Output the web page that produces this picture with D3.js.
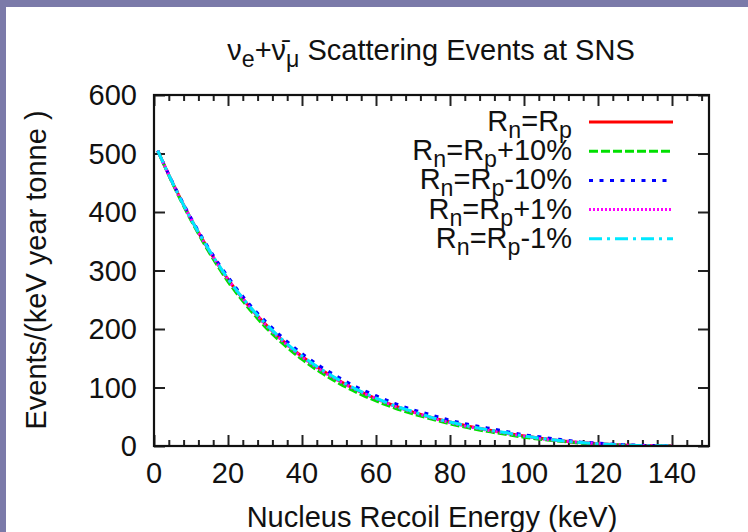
<!DOCTYPE html>
<meta charset="utf-8">

<!-- Load d3.js -->
<script src="https://d3js.org/d3.v7.min.js"></script>

<style>
  body { margin: 0; background: #7b7aa9; }
  #my_dataviz { position: absolute; left: 6px; top: 7px; width: 742px; height: 525px; background: #fff; }
  svg { position: absolute; left: -6px; top: -7px; }
  text { font-family: "Liberation Sans", Arial, Helvetica, sans-serif; fill: #111; }
</style>

<!-- Create a div where the graph will take place -->
<div id="my_dataviz"></div>

<script>
const energy = [1, 5, 10, 15, 20, 25, 30, 35, 40, 45, 50, 55, 60, 65, 70, 75, 80, 85, 90, 95, 100, 105, 110, 115, 120, 125, 130, 135, 140];

// events/(keV year tonne) for each neutron radius
const rnEqRp     = [505, 450, 388, 333, 285, 244, 209, 179, 153, 131, 112, 95, 81, 69, 58, 49, 41, 34, 28, 22, 17, 13, 9, 6, 4, 2, 1, 0.5, 0.2];
const rnPlus10   = [505, 449, 386, 330, 281, 240, 204, 174, 148, 126, 107, 91, 77, 65, 55, 46, 38, 31, 25, 20, 15, 11, 8, 5, 3, 2, 1, 0.4, 0.1];
const rnMinus10  = [505, 451, 390, 336, 289, 248, 214, 184, 158, 136, 117, 100, 86, 73, 62, 53, 44, 37, 31, 25, 19, 15, 11, 7, 5, 3, 1.5, 0.7, 0.3];
const rnPlus1    = [505, 450, 388, 333, 285, 244, 208, 178, 152, 130, 111, 95, 81, 68, 58, 48, 40, 33, 27, 22, 17, 12, 9, 6, 4, 2, 1, 0.5, 0.2];
const rnMinus1   = [505, 450, 388, 334, 286, 245, 210, 180, 154, 132, 113, 96, 82, 69, 59, 49, 41, 34, 28, 23, 17, 13, 9, 6, 4, 2, 1, 0.5, 0.2];

// legend labels, split into [text, isSubscript]
const labels = [
  [["R", 0], ["n", 1], ["=R", 0], ["p", 1]],
  [["R", 0], ["n", 1], ["=R", 0], ["p", 1], ["+10%", 0]],
  [["R", 0], ["n", 1], ["=R", 0], ["p", 1], ["-10%", 0]],
  [["R", 0], ["n", 1], ["=R", 0], ["p", 1], ["+1%", 0]],
  [["R", 0], ["n", 1], ["=R", 0], ["p", 1], ["-1%", 0]]
];

const xTicks = [0, 20, 40, 60, 80, 100, 120, 140];
const yTicks = [0, 100, 200, 300, 400, 500, 600];

const series = [
  {values: rnEqRp,    color: "#ff0000", dash: null},
  {values: rnPlus10,  color: "#00e000", dash: "9,3"},
  {values: rnMinus10, color: "#0000ff", dash: "4,6.5"},
  {values: rnPlus1,   color: "#ff00ff", dash: "2,2"},
  {values: rnMinus1,  color: "#00e8ff", dash: "13,5,3,5"}
];

// set the dimensions and margins of the graph
const W = 748, H = 532;
const margin = {top: 95, right: 39, bottom: 86, left: 154},
  width = W - margin.left - margin.right,
  height = H - margin.top - margin.bottom;

const root = d3.select("#my_dataviz")
  .append("svg")
    .attr("width", W)
    .attr("height", H);

const svg = root.append("g")
    .attr("transform", `translate(${margin.left}, ${margin.top})`);

const x = d3.scaleLinear().domain([0, 150]).range([0, width]);
const y = d3.scaleLinear().domain([0, 600]).range([height, 0]);

const minorX = d3.range(0, 151, 4).filter(v => v % 20 !== 0);

// ticks on all four sides, pointing inward
function tickAxis(axis, tv, size) {
  return axis.tickValues(tv).tickSizeInner(size).tickSizeOuter(0).tickFormat("");
}
const axes = [
  [tickAxis(d3.axisBottom(x), xTicks, -11), `translate(0,${height})`],
  [tickAxis(d3.axisBottom(x), minorX, -6), `translate(0,${height})`],
  [tickAxis(d3.axisTop(x), xTicks, -11), null],
  [tickAxis(d3.axisTop(x), minorX, -6), null],
  [tickAxis(d3.axisLeft(y), yTicks, -11), null],
  [tickAxis(d3.axisRight(y), yTicks, -11), `translate(${width},0)`]
];
axes.forEach(([a, t]) => {
  const g = svg.append("g").attr("transform", t).call(a);
  g.select(".domain").remove();
  g.selectAll("line").attr("stroke", "#222").attr("stroke-width", 2);
});

// tick labels
svg.selectAll(".xlab").data(xTicks).join("text")
    .attr("class", "xlab")
    .attr("x", d => x(d))
    .attr("y", height + 37)
    .attr("text-anchor", "middle")
    .style("font-size", "29px")
    .text(d => d);

svg.selectAll(".ylab").data(yTicks).join("text")
    .attr("class", "ylab")
    .attr("x", -17)
    .attr("y", d => y(d) + 10)
    .attr("text-anchor", "end")
    .style("font-size", "29px")
    .text(d => d);

// curves
svg.append("clipPath").attr("id", "clip")
  .append("rect").attr("width", width).attr("height", height);

const line = d3.line()
    .x((d, i) => x(energy[i]))
    .y(d => y(d))
    .curve(d3.curveMonotoneX);

svg.append("g").attr("clip-path", "url(#clip)")
  .selectAll("path").data(series).join("path")
    .attr("fill", "none")
    .attr("stroke", d => d.color)
    .attr("stroke-width", 3)
    .attr("stroke-dasharray", d => d.dash)
    .attr("d", d => line(d.values));

// border
svg.append("rect")
    .attr("width", width).attr("height", height)
    .attr("fill", "none").attr("stroke", "#111").attr("stroke-width", 2.2);

// legend
function subText(sel, parts, size) {
  parts.forEach(([t, sub], i) => {
    const prev = i > 0 ? parts[i - 1][1] : 0;
    sel.append("tspan")
      .attr("dy", sub ? 7 : (prev ? -7 : 0))
      .style("font-size", sub ? (size * 0.8) + "px" : size + "px")
      .text(t);
  });
}

const legend = svg.append("g");
series.forEach((s, i) => {
  const ly = 27 + i * 29.2;
  const t = legend.append("text")
      .attr("x", 418)
      .attr("y", ly + 9)
      .attr("text-anchor", "end");
  subText(t, labels[i], 29);
  legend.append("line")
      .attr("x1", 435).attr("x2", 519)
      .attr("y1", ly).attr("y2", ly)
      .attr("stroke", s.color)
      .attr("stroke-width", 3)
      .attr("stroke-dasharray", s.dash);
});

// title
const title = root.append("text")
    .attr("x", 431)
    .attr("y", 60)
    .attr("text-anchor", "middle")
    .style("font-size", "29px");
subText(title, [["\u03bd", 0], ["e", 1], ["+\u03bd\u0304", 0], ["\u03bc", 1], [" Scattering Events at SNS", 0]], 29);

// axis titles
root.append("text")
    .attr("x", 432)
    .attr("y", 527)
    .attr("text-anchor", "middle")
    .style("font-size", "29px")
    .text("Nucleus Recoil Energy (keV)");

root.append("text")
    .attr("transform", "translate(46,270) rotate(-90)")
    .attr("text-anchor", "middle")
    .style("font-size", "29px")
    .text("Events/(keV year tonne )");
</script>
